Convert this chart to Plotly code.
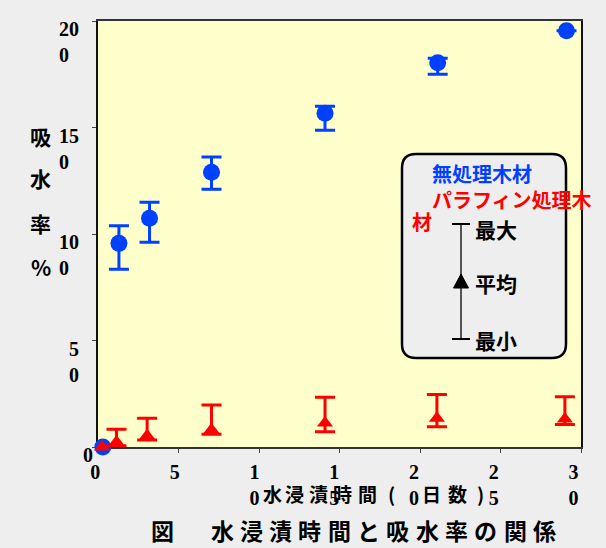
import plotly.graph_objects as go

# ---------------- data ----------------
blue_days = [0.3, 1.3, 3.2, 7.05, 14.1, 21.1, 29.1]
blue_mean = [0.0, 95.6, 107.4, 129.0, 156.7, 180.4, 195.4]
blue_min = [0.0, 83.4, 96.1, 121.0, 148.7, 175.0, 195.4]
blue_max = [0.0, 103.9, 114.9, 136.2, 160.0, 182.5, 195.4]

red_days = [0.25, 1.15, 3.05, 7.05, 14.1, 21.05, 29.0]
red_mean = [0.0, 2.3, 5.3, 8.1, 11.3, 13.5, 13.1]
red_min = [0.0, 0.6, 3.3, 6.0, 7.2, 9.5, 10.6]
red_max = [0.0, 8.3, 13.5, 19.7, 23.3, 24.7, 23.6]

x_tickvals = [0, 5, 10, 15, 20, 25, 30]
x_ticktext = ["0", "5", "1<br>0", "1<br>5", "2<br>0", "2<br>5", "3<br>0"]
NB = "\u00a0"
TH = "\u2009"
P1 = NB * 2 + TH          # pad after first line
y_tickvals = [0, 50, 100, 150, 200]
y_ticktext = ["0<br>" + NB,
              "5" + P1 + "<br>0" + P1,
              "10" + P1 + "<br>0" + NB * 4 + TH,
              "15" + P1 + "<br>0" + NB * 4 + TH,
              "20" + P1 + "<br>0" + NB * 4 + TH]

BLUE = "#0040ff"
RED = "#ff0000"
CJK = "Noto Sans CJK JP"
SERIF = "Liberation Serif"


def err_up(mean, mx):
    return [(b - a) if b != a else None for a, b in zip(mean, mx)]


def err_dn(mean, mn):
    return [(a - b) if b != a else None for a, b in zip(mean, mn)]


fig = go.Figure()
fig.add_trace(go.Scatter(
    x=blue_days, y=blue_mean, mode="markers", cliponaxis=False,
    marker=dict(symbol="circle", size=17, color=BLUE),
    error_y=dict(type="data", symmetric=False,
                 array=err_up(blue_mean, blue_max),
                 arrayminus=err_dn(blue_mean, blue_min),
                 color=BLUE, thickness=3, width=10),
    showlegend=False, hoverinfo="skip"))
fig.add_trace(go.Scatter(
    x=red_days, y=red_mean, mode="markers", cliponaxis=False,
    marker=dict(symbol="triangle-up", size=14, color=RED),
    error_y=dict(type="data", symmetric=False,
                 array=err_up(red_mean, red_max),
                 arrayminus=err_dn(red_mean, red_min),
                 color=RED, thickness=3, width=10),
    showlegend=False, hoverinfo="skip"))
# empty traces that activate the label axes
fig.add_trace(go.Scatter(x=[], y=[], xaxis="x2", yaxis="y", showlegend=False, hoverinfo="skip"))
fig.add_trace(go.Scatter(x=[], y=[], xaxis="x", yaxis="y2", showlegend=False, hoverinfo="skip"))

# ---------------- layout helpers ----------------
PL, PR, PT, PB = 98, 581, 21, 447


def fx(px):
    return (px - PL) / (PR - PL)


def fy(py):
    return (PB - py) / (PB - PT)


tickfont = dict(family=SERIF, size=20, color="black", weight="bold")

fig.update_layout(
    width=606, height=548,
    margin=dict(l=PL, r=606 - PR, t=PT, b=548 - PB, pad=0),
    paper_bgcolor="#eeeeee", plot_bgcolor="#ffffcc",
    showlegend=False,
    xaxis=dict(range=[0, 30], showline=True, linecolor="#333", linewidth=1.5,
               mirror=True, ticks="outside", ticklen=4, tickcolor="#444",
               tickvals=x_tickvals, showticklabels=False, showgrid=False,
               zeroline=False, layer="below traces"),
    xaxis2=dict(overlaying="x", anchor="y", side="bottom",
                range=[-0.01, 30.29], tickvals=x_tickvals, ticktext=x_ticktext,
                ticks="", showline=False, showgrid=False, zeroline=False,
                tickfont=tickfont, ticklabelstandoff=11, ticklabelshift=-3),
    yaxis=dict(range=[0, 200], showline=True, linecolor="#111", linewidth=1.5,
               mirror=True, ticks="outside", ticklen=4, tickcolor="#444",
               tickvals=y_tickvals, showticklabels=False, showgrid=False,
               zeroline=False, layer="below traces"),
    yaxis2=dict(overlaying="y", anchor="x", side="left", range=[0, 200],
                tickvals=y_tickvals, ticktext=y_ticktext, ticks="",
                showline=False, showgrid=False, zeroline=False,
                tickfont=tickfont, ticklabelshift=21, ticklabelstandoff=4),
)

# ---------------- legend box ----------------
x0, x1 = fx(402), fx(566)
yt, yb = fy(154), fy(358)
rx, ry = 14 / (PR - PL), 14 / (PB - PT)
box = (f"M {x0 + rx},{yt} L {x1 - rx},{yt} Q {x1},{yt} {x1},{yt - ry} "
       f"L {x1},{yb + ry} Q {x1},{yb} {x1 - rx},{yb} L {x0 + rx},{yb} "
       f"Q {x0},{yb} {x0},{yb + ry} L {x0},{yt - ry} Q {x0},{yt} {x0 + rx},{yt} Z")
shapes = [dict(type="path", path=box, xref="paper", yref="paper",
               fillcolor="#eeeeee", line=dict(color="black", width=2.5))]
shapes.append(dict(type="line", xref="paper", yref="paper", x0=fx(461), x1=fx(461),
                   y0=fy(224), y1=fy(339), line=dict(color="#555", width=2)))
for py in (224, 339):
    shapes.append(dict(type="line", xref="paper", yref="paper", x0=fx(452), x1=fx(470),
                       y0=fy(py), y1=fy(py), line=dict(color="black", width=2)))
tri = (f"M {fx(453.5)},{fy(288)} L {fx(468.5)},{fy(288)} L {fx(461)},{fy(274)} Z")
shapes.append(dict(type="path", path=tri, xref="paper", yref="paper",
                   fillcolor="black", line=dict(color="black", width=1)))
fig.update_layout(shapes=shapes)


def txt(text, px, py, size, color="black", anchor="left"):
    fig.add_annotation(text=text, x=fx(px), y=fy(py), xref="paper", yref="paper",
                       xanchor=anchor, yanchor="middle", showarrow=False,
                       font=dict(family=CJK, size=size, color=color, weight="bold"))


txt("無処理木材", 430, 173, 20, BLUE)
txt("パラフィン処理木", 430, 200, 20, RED)
txt("材", 410, 221, 20, RED)
txt("最大", 473, 229, 21)
txt("平均", 473, 283, 21)
txt("最小", 473, 340, 21)

# y-axis title (stacked characters)
for ch, py in zip(["吸", "水", "率", "%"], [136, 178, 223, 267]):
    txt(ch, 40.7, py, 21, anchor="center")

# x-axis title
for ch, px in zip(list("水浸漬時間(日数)"),
                  [272, 294, 318, 342, 367, 391, 431, 457, 480]):
    txt(ch, px, 494, 19, anchor="center")

# caption
cap_chars = list("水浸漬時間と吸水率の関係")
txt("図", 162, 530, 23, anchor="center")
for i, ch in enumerate(cap_chars):
    txt(ch, 222 + i * 29.3, 530, 23, anchor="center")

fig.write_html("out.html")
